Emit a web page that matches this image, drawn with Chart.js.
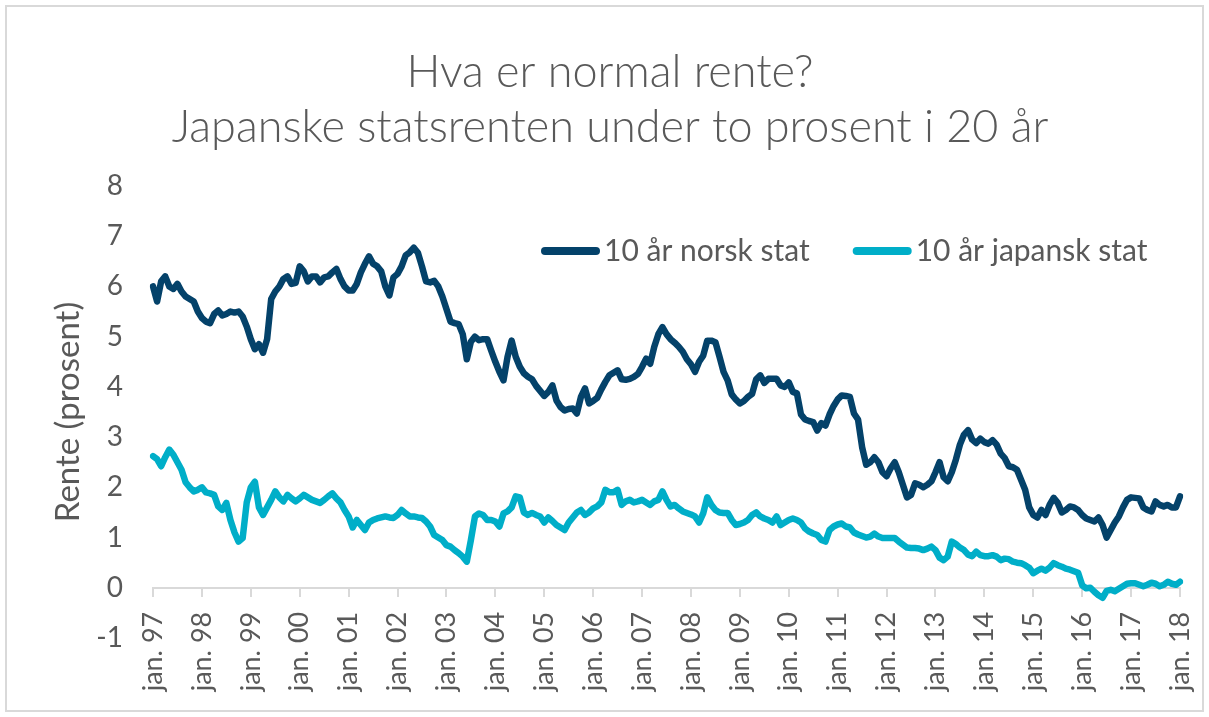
<!DOCTYPE html>
<html>
<head>
<meta charset="utf-8">
<script src="https://cdn.jsdelivr.net/npm/chart.js@4.4.1/dist/chart.umd.min.js"></script>
<style>
  html, body { margin: 0; padding: 0; background: #fff; }
  #wrap  { position: relative; width: 1209px; height: 717px; }
  #frame { position: absolute; left: 5px; top: 5px; right: 5px; bottom: 5px;
           border: 2px solid #d9d9d9; pointer-events: none; }
</style>
</head>
<body>
<div id="wrap">
  <canvas id="chart" width="1209" height="717"></canvas>
  <div id="frame"></div>
</div>
<script>
/* ── Data: monthly 10y government yields, jan. 97 – jan. 18 ── */
const TITLE = ['Hva er normal rente?', 'Japanske statsrenten under to prosent i 20 år'];
const Y_TITLE = 'Rente (prosent)';
const SERIES_NAMES = ['10 år norsk stat', '10 år japansk stat'];
const MONTHS = ['jan.', 'feb.', 'mar.', 'apr.', 'mai', 'jun.', 'jul.', 'aug.', 'sep.', 'okt.', 'nov.', 'des.'];
const FIRST_YEAR = 1997, LAST_YEAR = 2018;

const norsk = [
  6.0, 5.7, 6.1, 6.2, 6.0, 5.95, 6.05, 5.9, 5.8, 5.75, 5.7, 5.5,          // 1997
  5.37, 5.3, 5.27, 5.45, 5.52, 5.42, 5.45, 5.5, 5.48, 5.5, 5.4, 5.2,      // 1998
  4.95, 4.75, 4.85, 4.68, 4.95, 5.75, 5.9, 6.0, 6.15, 6.2, 6.05, 6.07,    // 1999
  6.4, 6.3, 6.1, 6.2, 6.2, 6.08, 6.18, 6.2, 6.28, 6.35, 6.15, 6.0,        // 2000
  5.92, 5.92, 6.05, 6.28, 6.45, 6.6, 6.45, 6.4, 6.3, 6.0, 5.82, 6.18,     // 2001
  6.25, 6.4, 6.62, 6.68, 6.77, 6.67, 6.4, 6.1, 6.08, 6.11, 6.0, 5.8,      // 2002
  5.55, 5.3, 5.27, 5.25, 5.05, 4.55, 4.9, 5.0, 4.93, 4.95, 4.95, 4.72,    // 2003
  4.5, 4.3, 4.13, 4.6, 4.92, 4.6, 4.4, 4.27, 4.2, 4.15, 4.02, 3.92,       // 2004
  3.82, 3.9, 4.03, 3.73, 3.6, 3.53, 3.56, 3.57, 3.47, 3.8, 3.97, 3.67,    // 2005
  3.72, 3.78, 3.95, 4.1, 4.23, 4.28, 4.33, 4.15, 4.14, 4.16, 4.2, 4.26,   // 2006
  4.4, 4.56, 4.46, 4.8, 5.05, 5.19, 5.05, 4.95, 4.88, 4.8, 4.7, 4.55,     // 2007
  4.45, 4.3, 4.5, 4.62, 4.92, 4.92, 4.89, 4.6, 4.3, 4.13, 3.85, 3.75,     // 2008
  3.67, 3.72, 3.8, 3.86, 4.15, 4.23, 4.08, 4.16, 4.16, 4.16, 4.03, 4.0,   // 2009
  4.09, 3.9, 3.87, 3.45, 3.35, 3.32, 3.3, 3.13, 3.28, 3.23, 3.45, 3.62,   // 2010
  3.75, 3.83, 3.82, 3.8, 3.47, 3.35, 2.8, 2.45, 2.5, 2.6, 2.5, 2.3,       // 2011
  2.22, 2.38, 2.5, 2.3, 2.05, 1.8, 1.85, 2.08, 2.05, 2.0, 2.05, 2.12,     // 2012
  2.3, 2.5, 2.2, 2.12, 2.3, 2.55, 2.85, 3.05, 3.14, 2.95, 2.88, 2.97,     // 2013
  2.9, 2.87, 2.94, 2.85, 2.67, 2.58, 2.42, 2.4, 2.35, 2.15, 1.95, 1.6,    // 2014
  1.45, 1.4, 1.55, 1.45, 1.65, 1.79, 1.69, 1.5, 1.55, 1.62, 1.6, 1.55,    // 2015
  1.45, 1.38, 1.35, 1.32, 1.4, 1.25, 1.0, 1.15, 1.3, 1.42, 1.6, 1.75,     // 2016
  1.8, 1.79, 1.78, 1.6, 1.55, 1.52, 1.72, 1.65, 1.62, 1.65, 1.6, 1.6,     // 2017
  1.82                                                                     // 2018
];

const japansk = [
  2.62, 2.56, 2.42, 2.6, 2.75, 2.65, 2.5, 2.35, 2.1, 2.0, 1.92, 1.95,     // 1997
  2.0, 1.9, 1.88, 1.85, 1.62, 1.55, 1.69, 1.35, 1.1, 0.92, 0.99, 1.7,     // 1998
  2.0, 2.11, 1.6, 1.45, 1.6, 1.75, 1.92, 1.8, 1.72, 1.85, 1.78, 1.72,     // 1999
  1.78, 1.85, 1.8, 1.75, 1.72, 1.69, 1.75, 1.82, 1.88, 1.78, 1.7, 1.55,   // 2000
  1.42, 1.2, 1.35, 1.25, 1.15, 1.3, 1.35, 1.38, 1.4, 1.42, 1.4, 1.39,     // 2001
  1.45, 1.55, 1.48, 1.42, 1.42, 1.4, 1.39, 1.32, 1.22, 1.05, 1.0, 0.95,   // 2002
  0.85, 0.82, 0.75, 0.69, 0.62, 0.52, 0.95, 1.42, 1.48, 1.45, 1.35, 1.35, // 2003
  1.32, 1.22, 1.48, 1.52, 1.6, 1.82, 1.8, 1.5, 1.45, 1.49, 1.45, 1.42,    // 2004
  1.3, 1.4, 1.33, 1.25, 1.2, 1.15, 1.3, 1.4, 1.5, 1.55, 1.45, 1.5,        // 2005
  1.58, 1.62, 1.7, 1.95, 1.9, 1.9, 1.95, 1.65, 1.72, 1.75, 1.7, 1.72,     // 2006
  1.75, 1.7, 1.65, 1.72, 1.75, 1.92, 1.75, 1.62, 1.65, 1.58, 1.52, 1.49,  // 2007
  1.46, 1.42, 1.3, 1.48, 1.8, 1.65, 1.55, 1.5, 1.49, 1.49, 1.35, 1.25,    // 2008
  1.27, 1.3, 1.35, 1.45, 1.5, 1.42, 1.38, 1.35, 1.3, 1.42, 1.25, 1.3,     // 2009
  1.35, 1.38, 1.35, 1.3, 1.18, 1.12, 1.08, 1.05, 0.95, 0.92, 1.15, 1.22,  // 2010
  1.26, 1.28, 1.22, 1.2, 1.1, 1.06, 1.03, 1.0, 1.02, 1.08, 1.02, 0.99,    // 2011
  0.99, 0.99, 0.99, 0.92, 0.86, 0.8, 0.79, 0.79, 0.78, 0.75, 0.78, 0.82,  // 2012
  0.75, 0.6, 0.55, 0.62, 0.92, 0.87, 0.8, 0.75, 0.66, 0.63, 0.72, 0.65,   // 2013
  0.63, 0.63, 0.65, 0.62, 0.55, 0.58, 0.57, 0.52, 0.5, 0.49, 0.45, 0.4,   // 2014
  0.29, 0.34, 0.38, 0.34, 0.4, 0.49, 0.45, 0.42, 0.38, 0.36, 0.33, 0.3,   // 2015
  0.05, -0.01, 0.0, -0.08, -0.15, -0.2, -0.06, -0.04, -0.07, -0.02, 0.03, 0.08, // 2016
  0.09, 0.09, 0.06, 0.03, 0.06, 0.1, 0.08, 0.03, 0.06, 0.12, 0.08, 0.06,  // 2017
  0.12                                                                     // 2018
];

const COLORS = ['#04426a', '#00aec8'];
const GREY_TEXT = '#595959';
const AXIS_GREY = '#d9d9d9';
const FONT = 'Lato, "Open Sans", sans-serif';

// month labels: "jan. 97", "feb. 97", ... "jan. 18"
const labels = [];
for (let y = FIRST_YEAR; y <= LAST_YEAR; y++) {
  MONTHS.forEach((m, i) => {
    if (y === LAST_YEAR && i > 0) return;
    labels.push(`${m} ${String(y).slice(2)}`);
  });
}

// ── Legend drawn inside the plot, upper right ──
const plotLegend = {
  id: 'plotLegend',
  afterDraw(chart) {
    const { ctx, chartArea } = chart;
    let x = chartArea.left + 388;
    const y = chartArea.top + 65;
    ctx.save();
    ctx.font = `30px ${FONT}`;
    ctx.textBaseline = 'middle';
    ctx.textAlign = 'left';
    chart.data.datasets.forEach(ds => {
      ctx.strokeStyle = ds.borderColor;
      ctx.lineWidth = 8;
      ctx.lineCap = 'round';
      ctx.beginPath();
      ctx.moveTo(x + 4, y);
      ctx.lineTo(x + 55, y);
      ctx.stroke();
      ctx.fillStyle = GREY_TEXT;
      ctx.fillText(ds.label, x + 63, y);
      x += 63 + ctx.measureText(ds.label).width + 43;
    });
    ctx.restore();
  }
};

new Chart(document.getElementById('chart'), {
  type: 'line',
  data: {
    labels,
    datasets: [
      { label: SERIES_NAMES[0], data: norsk,   borderColor: COLORS[0], backgroundColor: COLORS[0] },
      { label: SERIES_NAMES[1], data: japansk, borderColor: COLORS[1], backgroundColor: COLORS[1] }
    ]
  },
  options: {
    responsive: false,
    animation: false,
    layout: { padding: { top: 20, left: 40, right: 29, bottom: 79 } },
    elements: {
      line:  { borderWidth: 6.5, tension: 0, borderCapStyle: 'round', borderJoinStyle: 'round' },
      point: { radius: 0 }
    },
    plugins: {
      legend: { display: false },
      tooltip: { enabled: false },
      title: {
        display: true,
        text: TITLE,
        color: GREY_TEXT,
        font: { family: FONT, size: 45, weight: 300, lineHeight: 1.222 },
        padding: { top: 24.5, bottom: 31.5 }
      }
    },
    scales: {
      x: {
        position: { y: 0 },
        grid: { display: true, drawOnChartArea: false, drawTicks: true, tickLength: 8, color: AXIS_GREY, lineWidth: 2 },
        border: { display: true, color: AXIS_GREY, width: 2 },
        ticks: {
          autoSkip: false, maxRotation: 90, minRotation: 90, padding: 16,
          color: GREY_TEXT, font: { family: FONT, size: 27 },
          callback: (v, i) => i % 12 === 0 ? labels[i] : null
        },
        // rotated labels need no side room; keep the plot edge from the layout padding
        afterFit: s => { s.paddingLeft = 0; s.paddingRight = 0; }
      },
      y: {
        min: -1, max: 8,
        grid: { display: false },
        border: { display: false },
        ticks: { stepSize: 1, padding: 22, color: GREY_TEXT, font: { family: FONT, size: 28 } },
        title: { display: true, text: Y_TITLE, color: GREY_TEXT, font: { family: FONT, size: 33 }, padding: { top: 9, bottom: 0 } },
        afterFit: s => { s.width = 113; }
      }
    }
  },
  plugins: [plotLegend]
});
</script>
</body>
</html>
